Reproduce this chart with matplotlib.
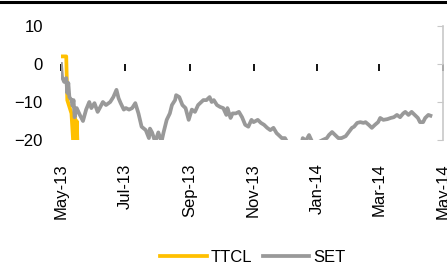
import matplotlib

matplotlib.use("Agg")
import matplotlib.pyplot as plt
import matplotlib.dates as mdates
import pandas as pd
from matplotlib.lines import Line2D

plt.rcParams["font.family"] = ["Liberation Sans", "DejaVu Sans"]

# Relative performance vs SET (%)
set_dates = [
    "2013-05-01", "2013-05-02", "2013-05-04", "2013-05-06", "2013-05-07", "2013-05-08",
    "2013-05-09", "2013-05-11", "2013-05-12", "2013-05-13", "2013-05-14", "2013-05-16",
    "2013-05-19", "2013-05-22", "2013-05-25", "2013-05-28", "2013-05-30", "2013-06-02",
    "2013-06-05", "2013-06-07", "2013-06-10", "2013-06-13", "2013-06-17", "2013-06-20",
    "2013-06-23", "2013-06-25", "2013-06-27", "2013-06-30", "2013-07-02", "2013-07-05",
    "2013-07-08", "2013-07-11", "2013-07-14", "2013-07-17", "2013-07-21", "2013-07-24",
    "2013-07-25", "2013-07-27", "2013-07-30", "2013-08-02", "2013-08-05", "2013-08-07",
    "2013-08-10", "2013-08-13", "2013-08-15", "2013-08-18", "2013-08-19", "2013-08-22",
    "2013-08-25", "2013-08-28", "2013-08-31", "2013-09-03", "2013-09-06", "2013-09-09",
    "2013-09-12", "2013-09-14", "2013-09-17", "2013-09-20", "2013-09-22", "2013-09-24",
    "2013-09-27", "2013-09-30", "2013-10-03", "2013-10-06", "2013-10-07", "2013-10-10",
    "2013-10-12", "2013-10-15", "2013-10-18", "2013-10-21", "2013-10-24", "2013-10-27",
    "2013-10-30", "2013-11-01", "2013-11-05", "2013-11-08", "2013-11-11", "2013-11-14",
    "2013-11-17", "2013-11-20", "2013-11-23", "2013-11-25", "2013-11-28", "2013-12-01",
    "2013-12-04", "2013-12-11", "2013-12-17", "2013-12-18", "2013-12-21", "2013-12-24",
    "2013-12-27", "2013-12-30", "2014-01-06", "2014-01-10", "2014-01-12", "2014-01-15",
    "2014-01-18", "2014-01-21", "2014-01-24", "2014-01-28", "2014-01-31", "2014-02-03",
    "2014-02-05", "2014-02-08", "2014-02-11", "2014-02-14", "2014-02-16", "2014-02-19",
    "2014-02-22", "2014-02-25", "2014-02-28", "2014-03-02", "2014-03-05", "2014-03-09",
    "2014-03-12", "2014-03-15", "2014-03-18", "2014-03-21", "2014-03-24", "2014-03-26",
    "2014-03-29", "2014-04-01", "2014-04-04", "2014-04-07", "2014-04-09", "2014-04-12",
    "2014-04-14", "2014-04-17", "2014-04-19",
]
set_values = [
    0.0, -3.4, -4.7, -3.7, -7.6, -5.0,
    -8.7, -9.5, -11.0, -9.5, -14.0, -11.6,
    -13.4, -15.0, -12.0, -10.0, -11.6, -10.3,
    -12.6, -11.6, -10.0, -10.8, -10.0, -8.7,
    -6.8, -9.0, -10.3, -12.0, -11.6, -12.0,
    -11.6, -10.3, -13.0, -16.5, -17.4, -19.5,
    -17.0, -18.0, -20.5, -18.0, -20.5, -18.0,
    -14.7, -13.0, -10.8, -9.5, -8.2, -8.7,
    -10.8, -11.6, -14.7, -12.0, -12.6, -10.8,
    -10.0, -9.5, -9.5, -8.7, -10.0, -9.5,
    -10.8, -11.3, -11.6, -13.4, -11.6, -14.2,
    -13.0, -13.0, -12.6, -14.0, -16.0, -16.5,
    -14.7, -15.3, -14.7, -15.5, -16.0, -16.8,
    -17.4, -16.8, -18.2, -18.7, -19.5, -19.5,
    -21.0, -21.5, -21.0, -19.5, -20.2, -18.7,
    -20.5, -21.0, -20.0, -19.5, -18.7, -17.9,
    -18.7, -19.5, -19.5, -19.0, -17.9, -16.8,
    -16.5, -15.5, -15.3, -15.5, -15.3, -16.0,
    -16.8, -16.0, -15.3, -14.2, -14.7, -14.5,
    -14.2, -14.0, -13.4, -14.0, -13.0, -12.6,
    -13.4, -12.6, -13.4, -14.2, -15.3, -15.3,
    -14.2, -13.4, -13.6,
]

ttcl_dates = [
    "2013-05-01", "2013-05-06", "2013-05-07", "2013-05-11", "2013-05-13",
    "2013-05-14", "2013-05-15", "2013-05-16", "2013-05-17", "2013-05-20",
]
ttcl_values = [2.0, 2.0, -9.5, -13.0, -22.0, -14.0, -24.0, -15.0, -23.0, -30.0]

y_ticks = [10, 0, -10, -20]
x_ticks = pd.date_range("2013-05-01", "2014-05-01", freq="2MS")

YELLOW = "#FFC000"
GREY = "#999999"
FS = 12

fig = plt.figure(figsize=(4.47, 2.66), dpi=100)
ax = fig.add_axes([61 / 447, 1 - 140 / 266, 382 / 447, 114 / 266])

ax.plot(pd.to_datetime(ttcl_dates), ttcl_values, color=YELLOW, lw=2.7, label="TTCL")
ax.plot(pd.to_datetime(set_dates), set_values, color=GREY, lw=2.7, label="SET")

ax.set_ylim(-20, 10)
ax.set_xlim(pd.Timestamp("2013-05-01"), pd.Timestamp("2014-05-01"))
ax.set_yticks(y_ticks)
ax.set_xticks(x_ticks)
ax.xaxis.set_major_formatter(mdates.DateFormatter("%b-%y"))

for side in ["left", "top", "bottom"]:
    ax.spines[side].set_visible(False)
ax.spines["right"].set_color("#C8C8C8")
ax.spines["right"].set_linewidth(1.2)

ax.tick_params(axis="y", left=False, right=True, direction="in", length=4,
               color="#C8C8C8", labelsize=FS, pad=13)
ax.tick_params(axis="x", length=0, labelsize=FS, labelrotation=90, pad=17)

# zero line carries the month ticks
zero = ax.secondary_xaxis(2 / 3)
zero.set_xticks(x_ticks)
zero.tick_params(axis="x", direction="out", length=5, width=1.3, labelbottom=False,
                 labeltop=False, bottom=True, top=False)
zero.spines["bottom"].set_linewidth(1.8)
zero.spines["top"].set_visible(False)

fig.legend(loc="center", bbox_to_anchor=(253 / 447, 9 / 266), ncol=2, frameon=False,
           fontsize=FS, handlelength=2.8, handletextpad=0.25, columnspacing=0.6,
           borderpad=0.1)

fig.add_artist(Line2D([0, 1], [0.992, 0.992], color="black", lw=2.2,
                      transform=fig.transFigure))

fig.savefig("out.png", dpi=100)
